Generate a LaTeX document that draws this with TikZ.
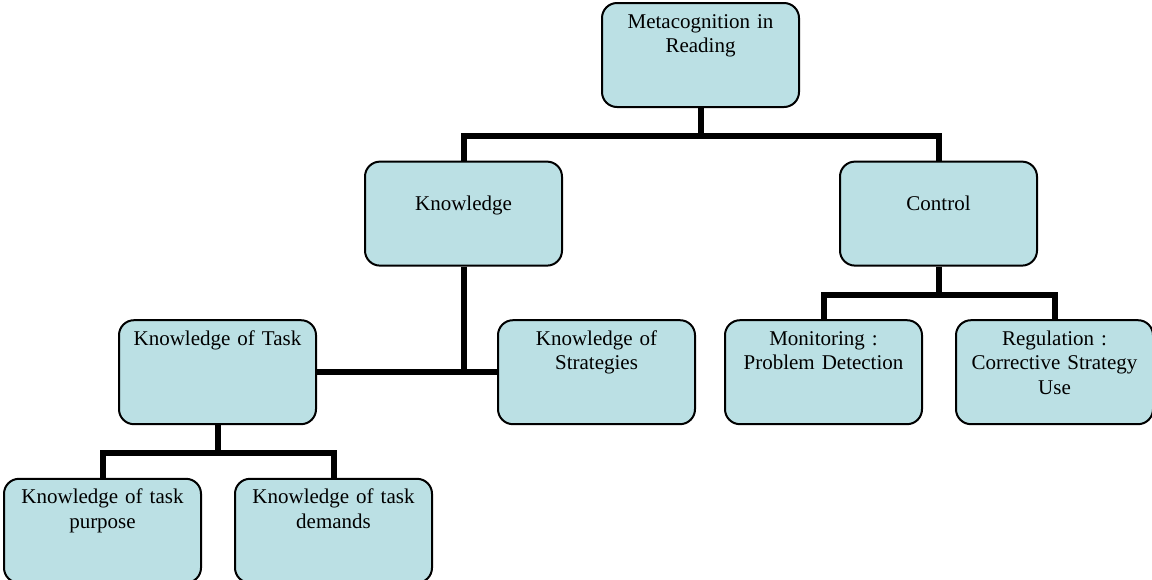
\documentclass[tikz,border=0pt]{standalone}
\usepackage{fontspec}
\setmainfont{Liberation Serif}
\usetikzlibrary{positioning}
\definecolor{paleblue}{RGB}{187,224,228}
\newcommand\wa{98.5pt}
\newcommand\ha{52pt}
\newcommand\rc{7.5pt}
\newcommand\vd{26.3pt}

\begin{document}
\begin{tikzpicture}[x=0.5pt, y=-0.5pt,
    box/.style={draw, line width=1pt, fill=paleblue, rounded corners=\rc,
      minimum width=\wa, minimum height=\ha, text width=94.5pt, inner xsep=2pt,
      inner ysep=0pt, align=center, font=\fontsize{10.5}{12.2}\selectfont,
      text height=12.5pt, text depth=39.5pt},
    midbox/.style={box, text height=24.5pt, text depth=27.5pt},
    link/.style={line width=3pt}]
    \useasboundingbox (0,0) rectangle (1152,579);

    \node (m) [box] at (700.5,55) {Metacognition in\\Reading};
    \node (k) [midbox, below=\vd of m, xshift=-118.5pt] {Knowledge};
    \node (c) [midbox, below=\vd of m, xshift=119pt] {Control};

    \node (t) [box, below=\vd of k, xshift=-123pt] {Knowledge of Task};
    \node (s) [box, right=90pt of t] {Knowledge of\\Strategies};
    \node (mo) [box, below=\vd of c, xshift=-57.5pt] {Monitoring :\\Problem Detection};
    \node (re) [box, right=16pt of mo] {Regulation :\\Corrective Strategy\\Use};

    \node (p) [box, below=\vd of t, xshift=-57.5pt] {Knowledge of task\\purpose};
    \node (d) [box, right=16pt of p] {Knowledge of task\\demands};

    % bus lines
    \coordinate [below=14pt of m] (mb);
    \draw[link] (m) -- (mb);
    \draw[link] (k.north) |- (mb) -| (c.north);

    \draw[link] (k) -- (k|-t.east);
    \draw[link] (t) -- (s);

    \coordinate [below=14pt of c] (cb);
    \draw[link] (c) -- (cb);
    \draw[link] (mo.north) |- (cb) -| (re.north);

    \coordinate [below=14pt of t] (tb);
    \draw[link] (t) -- (tb);
    \draw[link] (p.north) |- (tb) -| (d.north);

\end{tikzpicture}
\end{document}
